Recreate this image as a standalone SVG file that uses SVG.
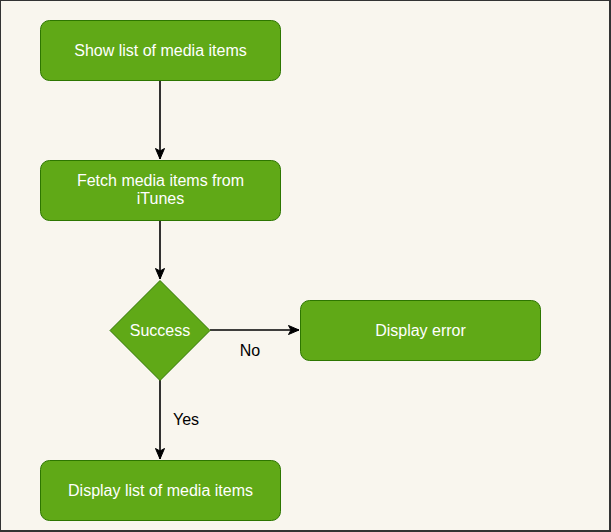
<svg xmlns="http://www.w3.org/2000/svg" width="611" height="532" viewBox="0 0 611 532">
<style>
.node{fill:#60a917;stroke:#2d7600;stroke-width:1}
.nt{font-family:"Liberation Sans",Arial,sans-serif;font-size:16px;fill:#ffffff;text-anchor:middle}
.lbl{font-family:"Liberation Sans",Arial,sans-serif;font-size:16px;fill:#000000;text-anchor:middle}
.edge{fill:none;stroke:#000000;stroke-width:1.6}
</style>
<defs>
<marker id="arr" markerUnits="userSpaceOnUse" markerWidth="14" markerHeight="12" refX="11" refY="5.5" orient="auto" viewBox="0 0 14 12">
<path d="M0.5,1 L11,5.5 L0.5,10 L3,5.5 Z" fill="#000000" stroke="#000000" stroke-width="1"/>
</marker>
</defs>
<rect x="0" y="0" width="611" height="532" fill="#333333"/>
<rect x="1" y="1" width="608" height="529" fill="#f9f6ee"/>
<g id="connectors">
<path class="edge" d="M160,80.5 L160,159" marker-end="url(#arr)"/>
<path class="edge" d="M160,220.5 L160,279" marker-end="url(#arr)"/>
<path class="edge" d="M210,330 L299,330" marker-end="url(#arr)"/>
<path class="edge" d="M160,380 L160,459" marker-end="url(#arr)"/>
<text class="lbl" x="250" y="355.5">No</text>
<text class="lbl" x="186" y="424.5">Yes</text>
</g>
<g id="show-list">
<rect class="node" x="40.5" y="20.5" width="240" height="60" rx="9" ry="9"/>
<text class="nt" x="160.5" y="55.5">Show list of media items</text>
</g>
<g id="fetch">
<rect class="node" x="40.5" y="160.5" width="240" height="60" rx="9" ry="9"/>
<text class="nt" x="160.5" y="185.5">Fetch media items from</text>
<text class="nt" x="160.5" y="204">iTunes</text>
</g>
<g id="success">
<path class="node" d="M160,280.5 L210,330.5 L160,380.5 L110,330.5 Z"/>
<text class="nt" x="160" y="335.5">Success</text>
</g>
<g id="display-error">
<rect class="node" x="300.5" y="300.5" width="240" height="60" rx="9" ry="9"/>
<text class="nt" x="420.5" y="335.5">Display error</text>
</g>
<g id="display-list">
<rect class="node" x="40.5" y="460.5" width="240" height="60" rx="9" ry="9"/>
<text class="nt" x="160.5" y="495.5">Display list of media items</text>
</g>
</svg>
